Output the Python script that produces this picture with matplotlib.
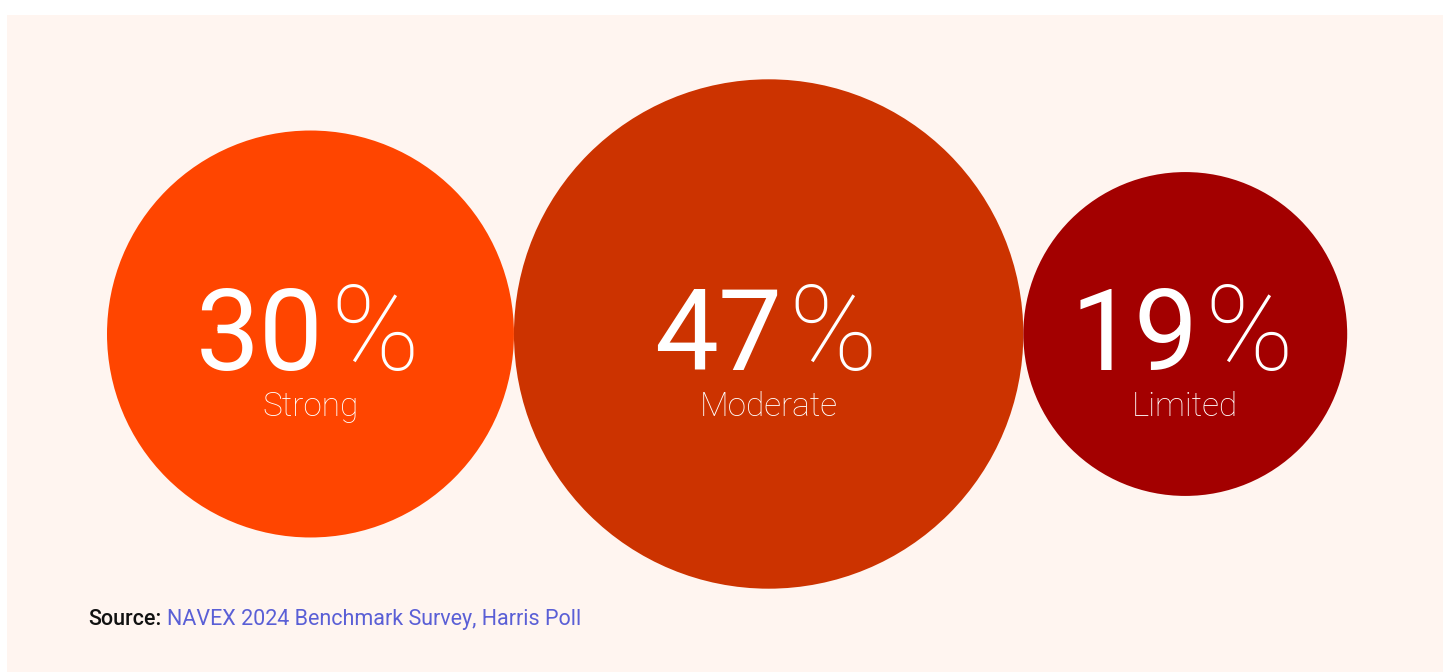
import numpy as np
import matplotlib
matplotlib.use("Agg")
import matplotlib.pyplot as plt
from matplotlib.patches import Circle, Rectangle

# --- data ---
labels = ["Strong", "Moderate", "Limited"]
values = [30, 47, 19]
colors = ["#FF4500", "#CC3300", "#A30000"]
source_label = "Source:"
source_text = "NAVEX 2024 Benchmark Survey, Harris Poll"

W, H = 1443, 672
fig = plt.figure(figsize=(W / 100, H / 100), dpi=100)
ax = fig.add_axes([0, 0, 1, 1])
ax.set_xlim(0, W)
ax.set_ylim(H, 0)
ax.set_aspect("equal")
ax.axis("off")
fig.patch.set_facecolor("white")
renderer = fig.canvas.get_renderer()

# peach panel
ax.add_patch(Rectangle((7, 15), W - 7, H - 15, facecolor="#FFF5F0", edgecolor="none", zorder=0))


def text_width(t):
    bb = t.get_window_extent(renderer=renderer)
    return bb.width


# --- bubbles, area proportional to value, placed side by side ---
scale = 37.15
cy = 334
x_left = 107
radii = [scale * np.sqrt(v) for v in values]
x = x_left
for lab, val, col, r in zip(labels, values, colors, radii):
    cx = x + r
    ax.add_patch(Circle((cx, cy), r, facecolor=col, edgecolor="none", zorder=1))

    num = ax.text(0, 370, str(val), color="white", fontsize=82, family="Roboto",
                  fontweight="normal", ha="left", va="baseline", zorder=2)
    pct = ax.text(0, 370, "%", color="white", fontsize=86, family="Roboto",
                  fontweight="light", ha="left", va="baseline", zorder=2)
    w1, w2 = text_width(num), text_width(pct)
    gap = 6
    x0 = cx - 3 - (w1 + gap + w2) / 2
    num.set_x(x0)
    pct.set_x(x0 + w1 + gap)

    ax.text(cx, 416, lab, color="white", fontsize=24, family="Roboto", fontweight="light",
            ha="center", va="baseline", zorder=2)
    x = cx + r

# --- source line ---
s1 = ax.text(88, 625, source_label, color="#111111", fontsize=15.5, family="Roboto",
             fontweight="medium", ha="left", va="baseline", zorder=2)
s2 = ax.text(88 + text_width(s1) + 6, 625, source_text, color="#5A5FD6", fontsize=15.5,
             family="Roboto", ha="left", va="baseline", zorder=2)

fig.savefig("out.png", dpi=100, facecolor="white")
